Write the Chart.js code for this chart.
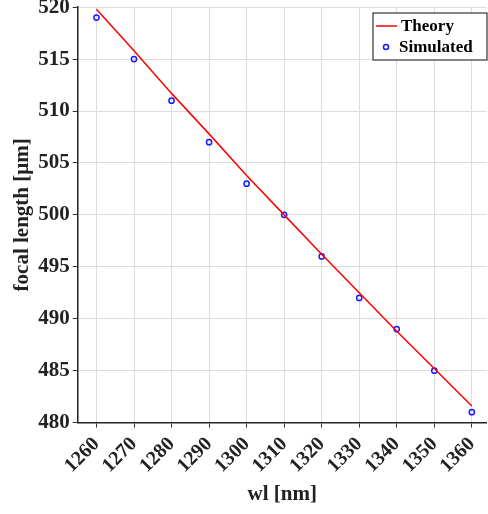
<!DOCTYPE html>
<html>
<head>
<meta charset="utf-8">
<script src="https://cdn.jsdelivr.net/npm/chart.js@4"></script>
<style>
  html, body { margin: 0; padding: 0; background: #fff; overflow: hidden; }
  #wrap { width: 488px; height: 514px; overflow: hidden; }
</style>
</head>
<body>
<div id="wrap"><canvas id="myChart" width="494" height="514"></canvas></div>
<script>
// wavelengths [nm] on x-axis
const wavelengths = [1260, 1270, 1280, 1290, 1300, 1310, 1320, 1330, 1340, 1350, 1360];

// theory curve values [um]
const theoryValues = [519.8, 515.8, 511.7, 507.8, 503.8, 500.0, 496.2, 492.5, 488.8, 485.2, 481.6];

// simulated focal lengths [um]
const simulatedValues = [519, 515, 511, 507, 503, 500, 496, 492, 489, 485, 481];

// tick labels
const xTicks = [1260, 1270, 1280, 1290, 1300, 1310, 1320, 1330, 1340, 1350, 1360];
const yTicks = [480, 485, 490, 495, 500, 505, 510, 515, 520];

const fontFamily = "'Liberation Serif', 'Times New Roman', serif";

// pair x and y values for the scatter type
function toPoints (xs, ys) { return xs.map((x, i) => ({ x: x, y: ys[i] })); }

// small boxed legend in the upper right corner of the plot
const boxLegend = {
    id: 'boxLegend',
    afterDraw (chart) {
        const ctx = chart.ctx;
        const sets = chart.data.datasets;
        const x0 = 373, y0 = 13, w = 114, h = 47;
        ctx.save();
        ctx.fillStyle = '#fff';
        ctx.fillRect(x0, y0, w, h);
        ctx.strokeStyle = '#333';
        ctx.lineWidth = 1.2;
        ctx.strokeRect(x0, y0, w, h);
        ctx.font = 'bold 17px ' + fontFamily;
        ctx.textBaseline = 'middle';
        ctx.fillStyle = '#000';
        // theory line sample
        let cy = y0 + 13;
        ctx.strokeStyle = sets[0].borderColor;
        ctx.lineWidth = 1.5;
        ctx.beginPath(); ctx.moveTo(x0 + 3, cy); ctx.lineTo(x0 + 24, cy); ctx.stroke();
        ctx.fillText(sets[0].label, x0 + 28, cy + 1);
        // simulated marker sample
        cy = y0 + 34;
        ctx.strokeStyle = sets[1].borderColor;
        ctx.beginPath(); ctx.arc(x0 + 13, cy, 2.5, 0, Math.PI * 2); ctx.stroke();
        ctx.fillText(sets[1].label, x0 + 26, cy + 1);
        ctx.restore();
    }
};

const chart = new Chart("myChart", {
    type: 'scatter',
    data: {
        datasets: [
            {
                label: 'Theory',
                data: toPoints(wavelengths, theoryValues),
                showLine: true,
                borderColor: '#ff0000',
                borderWidth: 1.5,
                pointRadius: 0,
                fill: false
            },
            {
                label: 'Simulated',
                data: toPoints(wavelengths, simulatedValues),
                showLine: false,
                borderColor: '#1a1aff',
                backgroundColor: 'rgba(0,0,0,0)',
                borderWidth: 1.5,
                pointRadius: 2.6
            }
        ]
    },
    options: {
        responsive: false,
        animation: false,
        layout: { padding: { top: 0, right: 0, bottom: 7, left: 10 } },
        plugins: {
            legend: { display: false },
            tooltip: { enabled: false }
        },
        scales: {
            x: {
                type: 'linear',
                min: 1255,
                max: 1364,
                afterBuildTicks: (scale) => { scale.ticks = xTicks.map(v => ({ value: v })); },
                grid: { color: '#dcdcdc', lineWidth: 1, tickColor: '#333', tickLength: 5 },
                border: { color: '#222', width: 1.5 },
                ticks: {
                    minRotation: 45, maxRotation: 45,
                    color: '#222',
                    padding: 5,
                    callback: (v) => String(v),
                    font: { family: fontFamily, size: 20, weight: 'bold' }
                },
                title: {
                    display: true, text: 'wl [nm]', color: '#222',
                    padding: { top: -1, bottom: 0 },
                    font: { family: fontFamily, size: 21, weight: 'bold' }
                }
            },
            y: {
                min: 480,
                max: 520,
                afterBuildTicks: (scale) => { scale.ticks = yTicks.map(v => ({ value: v })); },
                grid: { color: '#dcdcdc', lineWidth: 1, tickColor: '#333', tickLength: 5 },
                border: { color: '#222', width: 1.5 },
                ticks: {
                    color: '#222',
                    padding: 3,
                    font: { family: fontFamily, size: 21, weight: 'bold', lineHeight: 0.4 }
                },
                title: {
                    display: true, text: 'focal length [μm]', color: '#222',
                    padding: { top: 0, bottom: 0 },
                    font: { family: fontFamily, size: 21, weight: 'bold' }
                }
            }
        }
    },
    plugins: [boxLegend]
});
</script>
</body>
</html>
